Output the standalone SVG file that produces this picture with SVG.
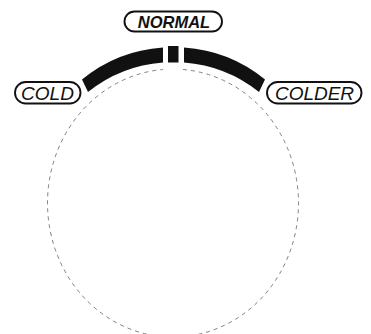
<svg xmlns="http://www.w3.org/2000/svg" width="371" height="334" viewBox="0 0 371 334">
<style>
.pill{fill:#fff;stroke:#111;stroke-width:1.9}
.lbl{font-family:"Liberation Sans",Arial,sans-serif;font-style:italic;font-size:19px;fill:#111;text-anchor:middle}
.bold{font-weight:bold;font-size:16.5px}
.band{fill:#111}
.dash{fill:none;stroke:#808080;stroke-width:1;stroke-dasharray:4 4}
</style>
<rect width="371" height="334" fill="#fff"/>
<g id="connectors">
<path class="dash" d="M 183,69.5 A 125.5 134 0 1 1 163,69.5"/>
</g>
<g id="dial">
<path class="band" d="M 82,79.5 A 143 143 0 0 1 163,47.5 L 163,62.5 A 136.8 136.8 0 0 0 88,92 Z"/>
<rect class="band" x="168" y="46" width="10.5" height="16.5"/>
<path class="band" d="M 265,79.5 A 143 143 0 0 0 184,47.5 L 184,62.5 A 136.8 136.8 0 0 1 259,92 Z"/>
</g>
<g id="normal">
<rect class="pill" x="124.5" y="11.5" width="97.5" height="20" rx="10"/>
<text class="lbl bold" x="174" y="27.8">NORMAL</text>
</g>
<g id="cold">
<rect class="pill" x="15" y="82" width="65.5" height="21.5" rx="10.75"/>
<text class="lbl" x="47.5" y="99.5">COLD</text>
</g>
<g id="colder">
<rect class="pill" x="267" y="82" width="94.5" height="21.5" rx="10.75"/>
<text class="lbl" x="314.5" y="99.5">COLDER</text>
</g>
</svg>
